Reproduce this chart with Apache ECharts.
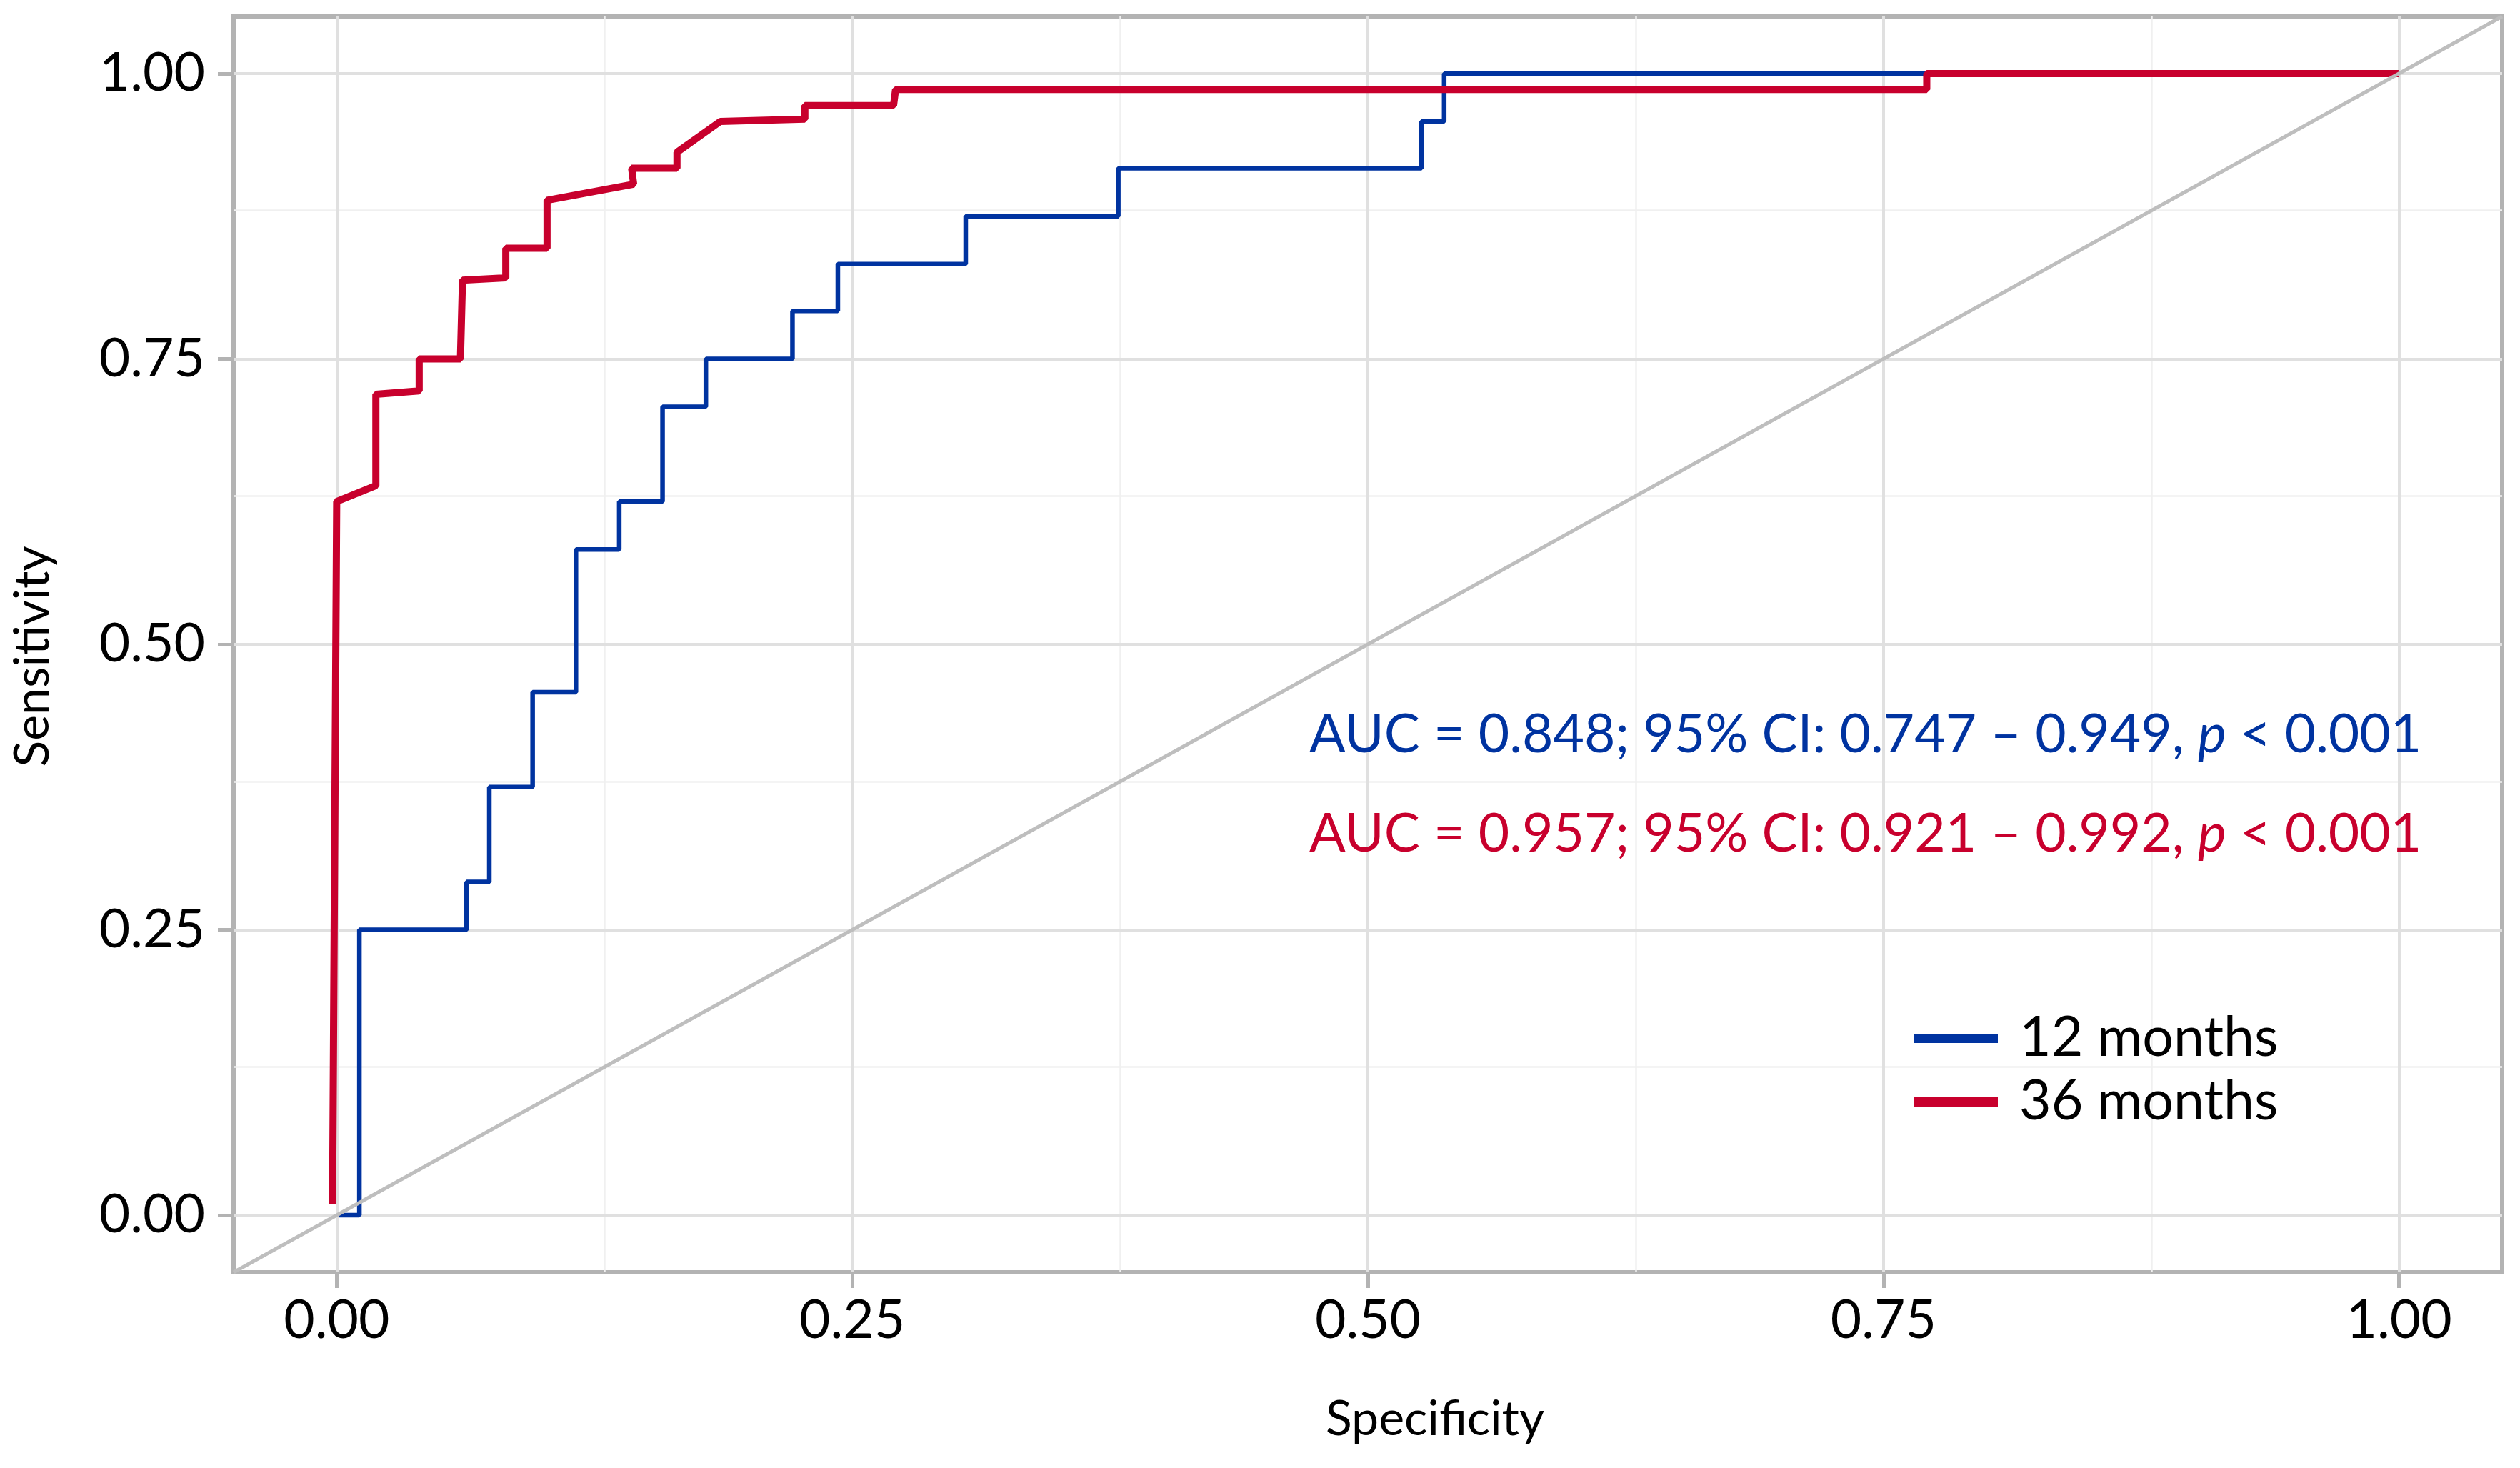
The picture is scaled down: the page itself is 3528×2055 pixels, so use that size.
<!DOCTYPE html>
<html><head><meta charset="utf-8">
<script src="https://cdn.jsdelivr.net/npm/echarts@6/dist/echarts.min.js"></script>
<style>html,body{margin:0;padding:0;background:#fff}#c{width:3528px;height:2055px}</style>
</head><body><div id="c"></div>
<script>
const seriesNames = ['12 months', '36 months'];
const seriesColors = ['#0033a0', '#c8002d'];
// [x, sensitivity] vertices of the ROC step curves
const roc12 = [
  [0.001,0.000],[0.011,0.000],[0.011,0.250],[0.063,0.250],[0.063,0.292],[0.074,0.292],
  [0.074,0.375],[0.095,0.375],[0.095,0.458],[0.116,0.458],[0.116,0.583],[0.137,0.583],
  [0.137,0.625],[0.158,0.625],[0.158,0.708],[0.179,0.708],[0.179,0.750],[0.221,0.750],
  [0.221,0.792],[0.243,0.792],[0.243,0.833],[0.305,0.833],[0.305,0.875],[0.379,0.875],
  [0.379,0.917],[0.526,0.917],[0.526,0.958],[0.537,0.958],[0.537,1.000],[1.000,1.000]
];
const roc36 = [
  [-0.002,0.010],[0.000,0.625],[0.019,0.639],[0.019,0.719],[0.040,0.722],[0.040,0.750],
  [0.060,0.750],[0.061,0.819],[0.082,0.821],[0.082,0.847],[0.102,0.847],[0.102,0.889],
  [0.144,0.903],[0.143,0.917],[0.165,0.917],[0.165,0.931],[0.186,0.958],[0.227,0.960],
  [0.227,0.972],[0.270,0.972],[0.271,0.986],[0.771,0.986],[0.771,1.000],[1.000,1.000]
];
const tickValues = [0, 0.25, 0.5, 0.75, 1];
const minorValues = [0.125, 0.375, 0.625, 0.875];
const axisRange = [-0.05, 1.05];
const chanceLine = [[-0.05, -0.05], [1.05, 1.05]];
const annotationLines = [
  {color: '#0033a0', pre: 'AUC = 0.848; 95% CI: 0.747 \u2013 0.949, ', p: 'p', post: ' < 0.001'},
  {color: '#c8002d', pre: 'AUC = 0.957; 95% CI: 0.921 \u2013 0.992, ', p: 'p', post: ' < 0.001'}
];
const xTitle = 'Specificity';
const yTitle = 'Sensitivity';

const FONT = 'Lato';
const chart = echarts.init(document.getElementById('c'), null, {renderer: 'canvas'});

function axisCommon() {
  return {
    type: 'value', min: axisRange[0], max: axisRange[1],
    axisLine: {show: false, onZero: false},
    splitLine: {show: false},
    axisTick: {show: true, length: 22, customValues: tickValues, lineStyle: {color: '#b3b3b3', width: 5}},
    axisLabel: {customValues: tickValues, formatter: v => v.toFixed(2), color: '#000',
      fontFamily: FONT, fontSize: 75}
  };
}
const xAx = axisCommon(); xAx.axisLabel.margin = 30;
const yAx = axisCommon(); yAx.axisLabel.margin = 40;

const gridLine = (vals, color, width) => ({
  type: 'line', data: [], z: 1, silent: true,
  markLine: {z: 1, silent: true, symbol: ['none', 'none'], label: {show: false},
    emphasis: {disabled: true}, animation: false,
    lineStyle: {color: color, width: width, type: 'solid'},
    data: vals.map(v => ({xAxis: v})).concat(vals.map(v => ({yAxis: v})))}
});

const annoGraphics = annotationLines.map((a, i) => ({
  type: 'text', x: 1833, y: [1029, 1168][i], z: 100,
  style: {
    text: '{n|' + a.pre + '}{i|' + a.p + '}{n|' + a.post + '}',
    align: 'left', verticalAlign: 'middle',
    rich: {
      n: {fontFamily: FONT, fontSize: 75, fill: a.color, lineHeight: 75},
      i: {fontFamily: FONT, fontSize: 75, fill: a.color, fontStyle: 'italic', lineHeight: 75}
    }
  }
}));

chart.setOption({
  animation: false,
  backgroundColor: '#fff',
  grid: {left: 327, top: 23, width: 3176, height: 1758, show: true,
    borderColor: '#b3b3b3', borderWidth: 6, backgroundColor: '#fff', containLabel: false},
  xAxis: xAx,
  yAxis: yAx,
  legend: {
    orient: 'vertical', left: 2674, top: 1410, icon: 'rect', itemWidth: 118, itemHeight: 13,
    itemGap: 12, data: seriesNames,
    textStyle: {fontFamily: FONT, fontSize: 77, color: '#000', padding: [0, 0, 0, 25]}
  },
  series: [
    gridLine(minorValues, '#f0f0f0', 2.5),
    gridLine(tickValues, '#e0e0e0', 4),
    {name: seriesNames[0], type: 'line', data: roc12, showSymbol: false, symbol: 'none', z: 10,
      color: seriesColors[0], lineStyle: {color: seriesColors[0], width: 6.5}},
    {name: seriesNames[1], type: 'line', data: roc36, showSymbol: false, symbol: 'none', z: 11,
      color: seriesColors[1], lineStyle: {color: seriesColors[1], width: 10}},
    {name: 'chance', type: 'line', data: chanceLine, showSymbol: false, symbol: 'none', z: 12,
      silent: true, color: '#bebebe', lineStyle: {color: '#bebebe', width: 5}}
  ],
  graphic: annoGraphics.concat([
    {type: 'text', x: 2009, y: 1987, style: {text: xTitle, fontFamily: FONT, fontSize: 68,
      fill: '#000', align: 'center', verticalAlign: 'middle'}},
    {type: 'text', x: 46, y: 919, rotation: Math.PI / 2, style: {text: yTitle, fontFamily: FONT,
      fontSize: 68, fill: '#000', align: 'center', verticalAlign: 'middle'}}
  ])
});
</script></body></html>
